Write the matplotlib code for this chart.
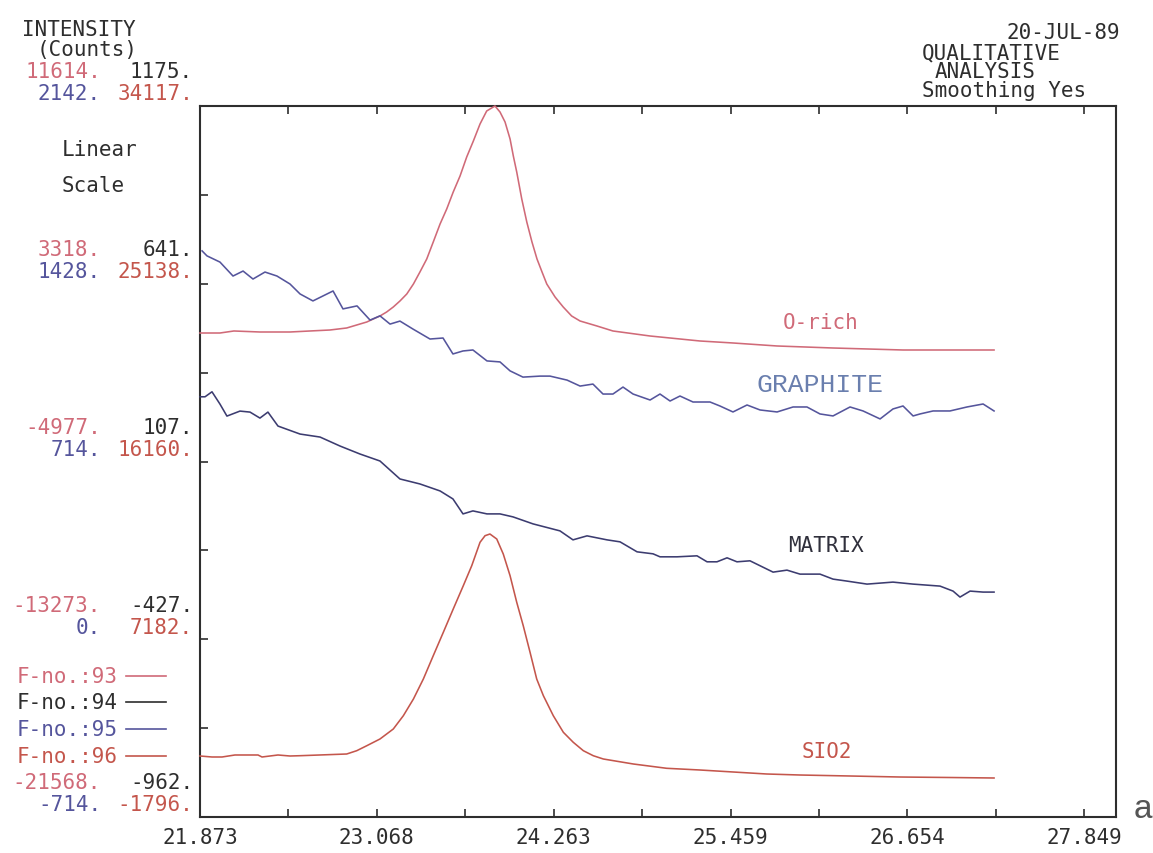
import matplotlib
matplotlib.use("Agg")
from matplotlib import pyplot as plt
from matplotlib.lines import Line2D

# ---- data -----------------------------------------------------------------
# x ticks (every second one labelled)
xtick_labels = ["21.873", "23.068", "24.263", "25.459", "26.654", "27.849"]

# intensity scales (counts) at every second y tick, top -> bottom
scale_93 = [11614, 3318, -4977, -13273, -21568]
scale_94 = [1175, 641, 107, -427, -962]
scale_95 = [2142, 1428, 714, 0, -714]
scale_96 = [34117, 25138, 16160, 7182, -1796]
file_numbers = [93, 94, 95, 96]

# F-no. 93 : O-rich
orich_x = [21.873, 22.008, 22.102, 22.278, 22.481, 22.616, 22.751, 22.864, 22.932, 23.000,
           23.044, 23.089, 23.134, 23.179, 23.224, 23.270, 23.315, 23.359, 23.405, 23.449,
           23.495, 23.540, 23.584, 23.630, 23.675, 23.720, 23.765, 23.810, 23.866, 23.900,
           23.934, 23.968, 23.990, 24.013, 24.047, 24.081, 24.116, 24.150, 24.184, 24.216,
           24.272, 24.327, 24.384, 24.441, 24.555, 24.663, 24.914, 25.251, 25.474, 25.772,
           26.150, 26.623, 27.238]
orich_y = [1020, 1020, 1114, 1067, 1067, 1114, 1160, 1254, 1394, 1534,
           1674, 1814, 2000, 2234, 2514, 2840, 3307, 3867, 4474, 5267,
           6107, 6807, 7601, 8347, 9234, 9981, 10774, 11381, 11614, 11334,
           10868, 10074, 9281, 8534, 7274, 6201, 5267, 4474, 3867, 3307,
           2700, 2234, 1814, 1580, 1347, 1114, 880, 647, 554, 414,
           320, 227, 227]

# F-no. 94 : MATRIX
matrix_x = [21.873, 21.907, 21.954, 22.008, 22.055, 22.143, 22.211, 22.278, 22.332, 22.400,
            22.549, 22.684, 22.819, 22.954, 23.089, 23.224, 23.359, 23.495, 23.582, 23.650,
            23.717, 23.812, 23.900, 23.988, 24.123, 24.305, 24.393, 24.488, 24.623, 24.711,
            24.826, 24.934, 24.981, 25.096, 25.231, 25.299, 25.366, 25.434, 25.501, 25.589,
            25.745, 25.839, 25.927, 26.062, 26.150, 26.245, 26.380, 26.555, 26.691, 26.873,
            26.961, 27.008, 27.076, 27.164, 27.238]
matrix_y = [301, 301, 316, 279, 243, 258, 255, 237, 255, 213,
            189, 180, 153, 129, 108, 54, 39, 18, -6, -51,
            -42, -51, -51, -60, -81, -102, -129, -117, -129, -135,
            -165, -171, -180, -180, -177, -195, -195, -183, -195, -192,
            -226, -220, -232, -232, -247, -253, -262, -256, -262, -268,
            -283, -301, -283, -286, -286]

# F-no. 95 : GRAPHITE
graphite_x = [21.887, 21.920, 22.008, 22.096, 22.164, 22.231, 22.312, 22.393, 22.481, 22.549,
              22.636, 22.704, 22.772, 22.839, 22.934, 23.022, 23.089, 23.157, 23.224, 23.312,
              23.427, 23.515, 23.582, 23.650, 23.717, 23.812, 23.900, 23.968, 24.055, 24.170,
              24.238, 24.353, 24.441, 24.528, 24.596, 24.663, 24.731, 24.799, 24.914, 24.981,
              25.049, 25.116, 25.204, 25.319, 25.386, 25.474, 25.569, 25.657, 25.772, 25.880,
              25.974, 26.062, 26.150, 26.265, 26.353, 26.468, 26.555, 26.623, 26.691, 26.738,
              26.826, 26.940, 27.055, 27.164, 27.238]
graphite_y = [1560, 1540, 1515, 1459, 1479, 1447, 1475, 1459, 1427, 1387,
              1359, 1379, 1399, 1327, 1339, 1282, 1299, 1266, 1278, 1246,
              1206, 1210, 1146, 1158, 1162, 1118, 1114, 1078, 1053, 1057,
              1057, 1041, 1017, 1025, 985, 985, 1013, 985, 961, 985,
              957, 977, 953, 953, 937, 913, 941, 921, 913, 933,
              933, 905, 897, 933, 917, 885, 925, 937, 897, 905,
              917, 917, 933, 945, 917]

# F-no. 96 : SIO2
sio2_x = [21.873, 21.954, 22.022, 22.109, 22.265, 22.292, 22.400, 22.481, 22.549, 22.864,
          22.932, 23.000, 23.089, 23.179, 23.247, 23.315, 23.382, 23.449, 23.517, 23.584,
          23.652, 23.709, 23.765, 23.799, 23.832, 23.878, 23.922, 23.968, 24.013, 24.057,
          24.103, 24.148, 24.193, 24.260, 24.328, 24.395, 24.463, 24.530, 24.598, 24.801,
          25.026, 25.251, 25.476, 25.702, 25.927, 26.265, 26.603, 26.940, 27.238]
sio2_y = [1285, 1235, 1235, 1336, 1336, 1235, 1336, 1285, 1300, 1386,
          1553, 1805, 2144, 2649, 3321, 4164, 5174, 6351, 7533, 8710,
          9887, 10897, 12079, 12413, 12498, 12246, 11488, 10392, 9049, 7867,
          6523, 5174, 4331, 3321, 2482, 1977, 1553, 1300, 1134, 881,
          664, 578, 477, 376, 325, 275, 224, 199, 174]

# ---- colours --------------------------------------------------------------
c93 = "#d06a78"
c94 = "#3c3c70"
c95 = "#55559c"
c96 = "#c4564c"
ink = "#2e2e2e"

plt.rcParams['font.family'] = ['DejaVu Sans Mono']

W, H = 1153, 854
fig = plt.figure(figsize=(W / 100, H / 100), dpi=100)
fig.patch.set_facecolor("white")
ax = fig.add_axes([200 / W, 1 - 818 / H, 916 / W, 711 / H])

step = 1.195 / 2
xticks = [21.873 + k * step for k in range(11)]
ax.set_xlim(21.873, 28.062)
ax.set_xticks(xticks)
ax.set_xticklabels([xtick_labels[k // 2] if k % 2 == 0 else "" for k in range(11)])
ax.set_ylim(0, 8)
ax.set_yticks(range(9))
ax.set_yticklabels([])
ax.tick_params(direction="in", length=6, width=1.2, top=True, right=True,
               labelsize=15, pad=7, colors=ink)
for s in ax.spines.values():
    s.set_linewidth(1.5)
    s.set_color(ink)


def overlay(scale):
    a = ax.twinx()
    a.set_ylim(scale[-1], scale[0])
    a.set_axis_off()
    return a


for scale, xs, ys, col in [(scale_93, orich_x, orich_y, c93),
                           (scale_94, matrix_x, matrix_y, c94),
                           (scale_95, graphite_x, graphite_y, c95),
                           (scale_96, sio2_x, sio2_y, c96)]:
    a = overlay(scale)
    a.plot(xs, ys, color=col, lw=1.15, clip_on=False)


def ftext(px, py, s, **kw):
    kw.setdefault("fontsize", 15)
    kw.setdefault("color", ink)
    fig.text(px / W, 1 - py / H, s, va="center", **kw)


# curve names
ftext(821, 323, "O-rich", color=c93, ha="center")
ftext(820, 385, "GRAPHITE", color="#6a7fae", ha="center", family="Liberation Mono", fontsize=19)
ftext(826, 546, "MATRIX", color="#30303c", ha="center")
ftext(827, 752, "SIO2", color=c96, ha="center")

# header texts
ftext(22, 30, "INTENSITY")
ftext(37, 50, "(Counts)")
ftext(62, 150, "Linear")
ftext(62, 186, "Scale")
ftext(1120, 33, "20-JUL-89", ha="right")
ftext(922, 53, "QUALITATIVE")
ftext(935, 72, "ANALYSIS")
ftext(922, 91, "Smoothing Yes")
fig.text(1143 / W, 1 - 810 / H, "a", fontsize=24, color="#555555",
         family="Liberation Sans", ha="center", va="center")

# per-series scale numbers next to every second y tick
tick_py = [107, 285, 463, 641, 818]
for i, py in enumerate(tick_py):
    ftext(101, py - 35, f"{scale_93[i]}.", color=c93, ha="right")
    ftext(193, py - 35, f"{scale_94[i]}.", color=ink, ha="right")
    ftext(101, py - 13, f"{scale_95[i]}.", color=c95, ha="right")
    ftext(193, py - 13, f"{scale_96[i]}.", color=c96, ha="right")

# file-number key
for fno, col, py in zip(file_numbers, [c93, ink, c95, c96], [677, 703, 730, 757]):
    ftext(118, py, f"F-no.:{fno}", color=col, ha="right")
    fig.add_artist(Line2D([126 / W, 166 / W], [1 - py / H] * 2, color=col, lw=1.2,
                          transform=fig.transFigure))

fig.savefig("out.png", dpi=100)
